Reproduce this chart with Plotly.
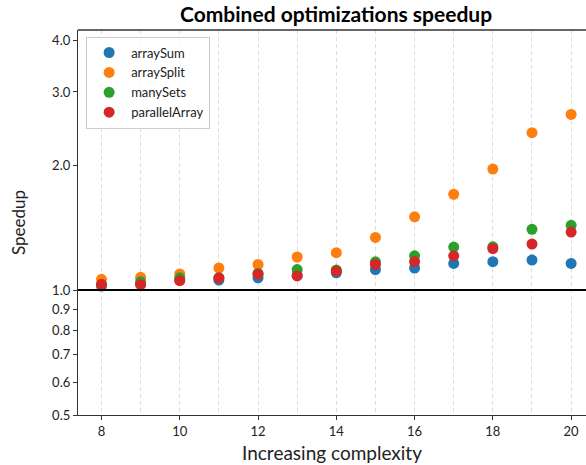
import plotly.graph_objects as go
import numpy as np

# Problem complexity levels
complexity = [8, 9, 10, 11, 12, 13, 14, 15, 16, 17, 18, 19, 20]

# Speedup of each benchmark with the combined optimizations
array_sum = [1.022, 1.035, 1.058, 1.057, 1.070, 1.084, 1.100, 1.120, 1.130, 1.159, 1.170, 1.181, 1.159]
array_split = [1.061, 1.073, 1.093, 1.130, 1.152, 1.201, 1.230, 1.339, 1.501, 1.701, 1.956, 2.393, 2.649]
many_sets = [1.030, 1.047, 1.070, 1.070, 1.096, 1.120, 1.117, 1.169, 1.209, 1.269, 1.271, 1.400, 1.432]
parallel_array = [1.032, 1.030, 1.053, 1.069, 1.092, 1.081, 1.111, 1.152, 1.171, 1.209, 1.259, 1.290, 1.379]

series = [
    ("arraySum", array_sum, "#1f77b4"),
    ("arraySplit", array_split, "#ff7f0e"),
    ("manySets", many_sets, "#2ca02c"),
    ("parallelArray", parallel_array, "#d62728"),
]

y_ticks = [0.5, 0.6, 0.7, 0.8, 0.9, 1.0, 2.0, 3.0, 4.0]
y_tick_text = ["0.5", "0.6", "0.7", "0.8", "0.9", "1.0", "2.0", "3.0", "4.0"]
x_ticks = [8, 10, 12, 14, 16, 18, 20]

FONT = "Lato, Open Sans, sans-serif"

fig = go.Figure()
for name, vals, color in series:
    fig.add_trace(go.Scatter(
        x=complexity, y=vals, mode="markers", name=name,
        marker=dict(color=color, size=11, line=dict(width=0)),
    ))

# Baseline: no speedup
fig.add_shape(type="line", xref="paper", x0=0, x1=1, yref="y", y0=1.0, y1=1.0,
              line=dict(color="black", width=2))
# Top frame line
fig.add_shape(type="line", xref="paper", x0=0, x1=1, yref="paper", y0=1, y1=1,
              line=dict(color="#333333", width=1.3))

fig.update_layout(
    width=586, height=465,
    margin=dict(l=78, r=0, t=30, b=50),
    plot_bgcolor="white", paper_bgcolor="white",
    font=dict(family=FONT, color="#222222", size=12),
    title=dict(text="<b>Combined optimizations speedup</b>", xref="paper", x=0.508,
               xanchor="center", y=0.968, yanchor="middle",
               font=dict(size=21, color="black")),
    showlegend=True,
    legend=dict(x=0.016, y=0.983, xanchor="left", yanchor="top",
                bgcolor="rgba(255,255,255,0.85)", bordercolor="#cccccc", borderwidth=1,
                font=dict(size=13, color="#222222"), itemwidth=34,
                entrywidth=131, tracegroupgap=2),
)

fig.update_xaxes(
    range=[7.4, 20.38], tickvals=x_ticks, ticks="outside", ticklen=4,
    tickcolor="#333333", showline=True, linecolor="#333333", linewidth=1.3,
    showgrid=True, gridcolor="#dddddd", griddash="4px,3px", gridwidth=1,
    minor=dict(dtick=1, tick0=8, showgrid=True, gridcolor="#dddddd",
               griddash="4px,3px", ticks=""),
    zeroline=False, tickfont=dict(size=13), automargin=False,
    title=dict(text="Increasing complexity", font=dict(size=19), standoff=8),
)
fig.update_yaxes(
    type="log", range=[np.log10(0.5), np.log10(4.23)],
    tickvals=y_ticks, ticktext=y_tick_text, ticks="outside", ticklen=4,
    tickcolor="#333333", showline=True, linecolor="#333333", linewidth=1.3,
    showgrid=False, zeroline=False, tickfont=dict(size=13), automargin=False,
    title=dict(text="Speedup", font=dict(size=17), standoff=22),
)

fig.write_html("out.html")
